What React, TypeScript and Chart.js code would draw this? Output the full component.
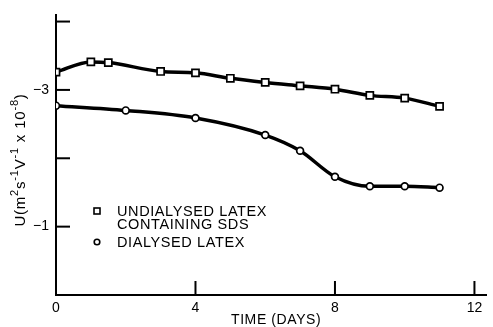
import React, { useEffect, useRef } from "react";
import { Chart, registerables } from "chart.js";

Chart.register(...registerables);

const undialysedDays = [0, 1, 1.5, 3, 4, 5, 6, 7, 8, 9, 10, 11];
const undialysedU = [-3.26, -3.41, -3.4, -3.27, -3.25, -3.17, -3.11, -3.06, -3.01, -2.92, -2.88, -2.76];
const dialysedDays = [0, 2, 4, 6, 7, 8, 9, 10, 11];
const dialysedU = [-2.77, -2.7, -2.59, -2.34, -2.11, -1.73, -1.59, -1.59, -1.57];
const xTickValues = [0, 4, 8, 12];
const yTickValues = [-4, -3, -2, -1, 0];
const yLabelled = [-3, -1];
const legendLines = ["UNDIALYSED LATEX", "CONTAINING SDS", "DIALYSED LATEX"];
const xTitle = "TIME (DAYS)";

const FONT = '"Liberation Sans", Arial, sans-serif';

const decorPlugin = {
  id: "decor",
  afterDraw(chart: any) {
    const { ctx, chartArea, scales } = chart;
    const xs = scales.x;
    const ys = scales.y;
    ctx.save();
    ctx.strokeStyle = "#000";
    ctx.fillStyle = "#000";
    ctx.lineWidth = 2;
    // inward ticks
    for (const v of xTickValues) {
      if (v === 0) continue;
      const px = xs.getPixelForValue(v);
      ctx.beginPath();
      ctx.moveTo(px, chartArea.bottom);
      ctx.lineTo(px, chartArea.bottom - 14);
      ctx.stroke();
    }
    for (const v of yTickValues) {
      if (v === 0) continue;
      const py = ys.getPixelForValue(v);
      ctx.beginPath();
      ctx.moveTo(chartArea.left, py);
      ctx.lineTo(chartArea.left + 14, py);
      ctx.stroke();
    }
    // x title
    (ctx as any).letterSpacing = "0.6px";
    ctx.font = `14px ${FONT}`;
    ctx.textAlign = "center";
    ctx.textBaseline = "middle";
    ctx.fillText(xTitle, (chartArea.left + chartArea.right) / 2 + 5, 320);

    // y title with superscripts
    ctx.save();
    ctx.translate(19, 160);
    ctx.rotate(-Math.PI / 2);
    const parts: [string, boolean][] = [
      ["U(m", false], ["2", true], ["s", false], ["-1", true],
      ["V", false], ["-1", true], [" x 10", false], ["-8", true], [")", false],
    ];
    const big = `15px ${FONT}`;
    const small = `11px ${FONT}`;
    (ctx as any).letterSpacing = "0.8px";
    let total = 0;
    for (const [t, sup] of parts) {
      ctx.font = sup ? small : big;
      total += ctx.measureText(t).width;
    }
    let cx = -total / 2;
    ctx.textAlign = "left";
    ctx.textBaseline = "alphabetic";
    for (const [t, sup] of parts) {
      ctx.font = sup ? small : big;
      ctx.fillText(t, cx, sup ? -1 : 6);
      cx += ctx.measureText(t).width;
    }
    ctx.restore();

    // legend
    const lx = chartArea.left + 41;
    const tx = chartArea.left + 61;
    const rows = [211, 224, 242];
    ctx.lineWidth = 1.6;
    ctx.strokeRect(lx - 3, rows[0] - 3, 6, 6);
    ctx.beginPath();
    ctx.arc(lx, rows[2], 2.8, 0, Math.PI * 2);
    ctx.stroke();
    (ctx as any).letterSpacing = "0.6px";
    ctx.font = `14.5px ${FONT}`;
    ctx.textAlign = "left";
    ctx.textBaseline = "middle";
    legendLines.forEach((t, i) => ctx.fillText(t, tx, rows[i] + 1));
    ctx.restore();
  },
};

export default function App() {
  const ref = useRef<HTMLCanvasElement>(null);
  useEffect(() => {
    const canvas = ref.current!;
    const chart = new Chart(canvas, {
      type: "line",
      data: {
        datasets: [
          {
            label: "Undialysed latex containing SDS",
            data: undialysedDays.map((d, i) => ({ x: d, y: undialysedU[i] })),
            borderColor: "#000",
            borderWidth: 3.5,
            pointStyle: "rect",
            pointRadius: 5,
            pointBorderWidth: 1.7,
            pointBackgroundColor: "#fff",
            pointBorderColor: "#000",
            cubicInterpolationMode: "monotone",
          },
          {
            label: "Dialysed latex",
            data: dialysedDays.map((d, i) => ({ x: d, y: dialysedU[i] })),
            borderColor: "#000",
            borderWidth: 3.5,
            pointStyle: "circle",
            pointRadius: 3.4,
            pointBorderWidth: 1.7,
            pointBackgroundColor: "#fff",
            pointBorderColor: "#000",
            cubicInterpolationMode: "monotone",
          },
        ],
      },
      options: {
        responsive: false,
        animation: false,
        layout: { padding: { top: 9, right: 2, left: 0, bottom: 0 } },
        plugins: { legend: { display: false }, tooltip: { enabled: false } },
        scales: {
          x: {
            type: "linear",
            min: 0,
            max: 12.34,
            afterBuildTicks: (s: any) => {
              s.ticks = xTickValues.map((v) => ({ value: v }));
            },
            afterFit: (s: any) => {
              s.height = 32;
            },
            grid: { display: false, drawTicks: false },
            border: { display: true, color: "#000", width: 2 },
            ticks: {
              padding: 5,
              color: "#000",
              font: { family: FONT, size: 14 },
              callback: (v: any) => String(v),
              maxRotation: 0,
            },
          },
          y: {
            type: "linear",
            reverse: true,
            min: -4.09,
            max: 0,
            afterBuildTicks: (s: any) => {
              s.ticks = yTickValues.map((v) => ({ value: v }));
            },
            afterFit: (s: any) => {
              s.width = 56;
            },
            grid: { display: false, drawTicks: false },
            border: { display: true, color: "#000", width: 2 },
            ticks: {
              padding: 7,
              color: "#000",
              font: { family: FONT, size: 14 },
              callback: (v: any) => (yLabelled.includes(Number(v)) ? "\u2212" + Math.abs(Number(v)) : ""),
            },
          },
        },
      },
      plugins: [decorPlugin],
    } as any);
    return () => chart.destroy();
  }, []);
  return (
    <div style={{ position: "fixed", left: 0, top: 0, width: 493, height: 327, background: "#fff" }}>
      <canvas ref={ref} width={493} height={327} />
    </div>
  );
}
